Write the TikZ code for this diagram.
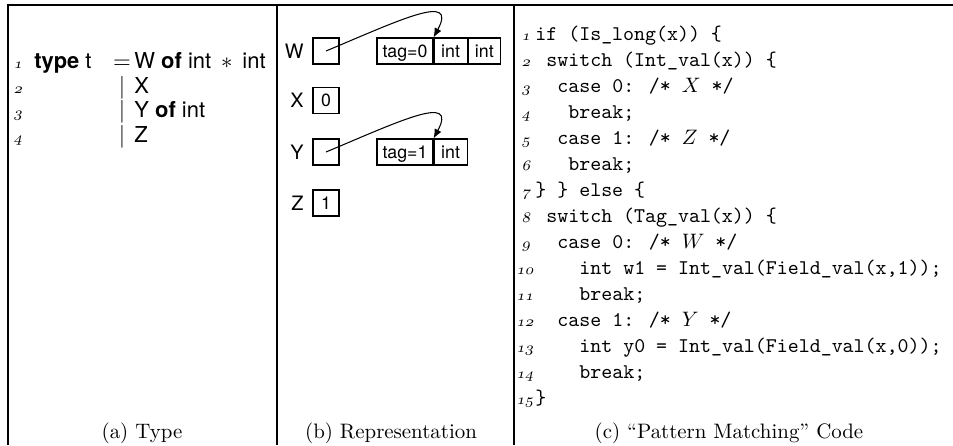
\documentclass[tikz,border=0pt]{standalone}
\usepackage{fontspec}
\setsansfont{TeX Gyre Heros}
\usetikzlibrary{arrows.meta}
\begin{document}
\begin{tikzpicture}[x=0.4785pt,y=-0.4785pt,
  frame/.style={line width=0.75pt},
  typ/.style={font=\fontsize{10.5}{13}\selectfont\sffamily, inner sep=0pt},
  lnum/.style={font=\fontsize{7}{8}\selectfont, inner sep=0pt, anchor=base, xslant=0.22, transform shape},
  lnumw/.style={lnum, anchor=base west},
  code/.style={font=\fontsize{10}{12}\selectfont\ttfamily, inner sep=0pt, anchor=base west},
  captext/.style={font=\fontsize{10}{12}\selectfont, inner sep=0pt, anchor=base},
  lab/.style={font=\fontsize{9.5}{11}\selectfont\sffamily, inner sep=0pt, anchor=east},
  cell/.style={draw, line width=0.5pt, font=\fontsize{8.5}{10}\selectfont\sffamily,
    inner sep=0pt, minimum height=12.44pt, text height=6.1pt, text depth=0pt},
  ptr/.style={line width=0.5pt, -{Latex[length=4.5pt,width=3.6pt]}}
]
\useasboundingbox (0,0) rectangle (953,445);
% frame
\draw[frame] (8,445) -- (8,5) -- (953,5);
\draw[frame] (277,5) -- (277,445);
\draw[frame] (514,5) -- (514,445);

% (a) Type
\node[lnum] (an1) at (18,68) {$\mathnormal{1}$};
\node[lnum] (an2) at (18,93) {$\mathnormal{2}$};
\node[lnum] (an3) at (18,117) {$\mathnormal{3}$};
\node[lnum] (an4) at (18,142) {$\mathnormal{4}$};
\node[typ, anchor=base east] (a1l) at (92,68) {\textbf{type} t};
\node[typ, anchor=base] (a1e) at (122,68) {$=$};
\node[typ, anchor=base west] (a1r) at (134,68) {W \textbf{of} int $\,*\,$ int};
\node[typ, anchor=base] (a2b) at (122,93) {$|$};
\node[typ, anchor=base west] (a2r) at (134,93) {X};
\node[typ, anchor=base] (a3b) at (122,117) {$|$};
\node[typ, anchor=base west] (a3r) at (134,117) {Y \textbf{of} int};
\node[typ, anchor=base] (a4b) at (122,142) {$|$};
\node[typ, anchor=base west] (a4r) at (134,142) {Z};

% (b) Representation
\node[lab] (lw) at (304,51) {W};
\node[lab] (lx) at (304,100.5) {X};
\node[lab] (ly) at (304,152) {Y};
\node[lab] (lz) at (304,203) {Z};
\node[cell, minimum width=12.44pt] (bw) at (326,51) {};
\node[cell, minimum width=12.44pt] (bx) at (326,100.5) {0};
\node[cell, minimum width=12.44pt] (by) at (326,152) {};
\node[cell, minimum width=12.44pt] (bz) at (326,203) {1};
\node[cell, minimum width=26.8pt] (wt) at (405,51) {tag=0};
\node[cell, minimum width=15.8pt, anchor=west] (wi1) at (wt.east) {int};
\node[cell, minimum width=15.5pt, anchor=west] (wi2) at (wi1.east) {int};
\node[cell, minimum width=26.8pt] (yt) at (405,152) {tag=1};
\node[cell, minimum width=15.8pt, anchor=west] (yi1) at (yt.east) {int};
\draw[ptr] (bw.center) .. controls (400,20) and (458,-8) .. (wt.north east);
\draw[ptr] (by.center) .. controls (400,121) and (458,93) .. (yt.north east);

% (c) code
\node[lnum] (cn1) at (526,40) {$\mathnormal{1}$};
\node[lnum] (cn2) at (526,66) {$\mathnormal{2}$};
\node[lnum] (cn3) at (526,92) {$\mathnormal{3}$};
\node[lnum] (cn4) at (526,118) {$\mathnormal{4}$};
\node[lnum] (cn5) at (526,144) {$\mathnormal{5}$};
\node[lnum] (cn6) at (526,170) {$\mathnormal{6}$};
\node[lnum] (cn7) at (526,196) {$\mathnormal{7}$};
\node[lnum] (cn8) at (526,222) {$\mathnormal{8}$};
\node[lnum] (cn9) at (526,248) {$\mathnormal{9}$};
\node[lnumw] (cn10) at (516,274) {$\mathnormal{10}$};
\node[lnumw] (cn11) at (516,300) {$\mathnormal{11}$};
\node[lnumw] (cn12) at (516,326) {$\mathnormal{12}$};
\node[lnumw] (cn13) at (516,352) {$\mathnormal{13}$};
\node[lnumw] (cn14) at (516,378) {$\mathnormal{14}$};
\node[lnumw] (cn15) at (516,404) {$\mathnormal{15}$};
\node[code] (c1) at (535,40) {if (Is\_long(x)) \{};
\node[code] (c2) at (546,66) {switch (Int\_val(x)) \{};
\node[code] (c3) at (557,92) {case 0: /* $X$ */};
\node[code] (c4) at (568,118) {break;};
\node[code] (c5) at (557,144) {case 1: /* $Z$ */};
\node[code] (c6) at (568,170) {break;};
\node[code] (c7) at (535,196) {\} \} else \{};
\node[code] (c8) at (546,222) {switch (Tag\_val(x)) \{};
\node[code] (c9) at (557,248) {case 0: /* $W$ */};
\node[code] (c10) at (579,274) {int w1 = Int\_val(Field\_val(x,1));};
\node[code] (c11) at (579,300) {break;};
\node[code] (c12) at (557,326) {case 1: /* $Y$ */};
\node[code] (c13) at (579,352) {int y0 = Int\_val(Field\_val(x,0));};
\node[code] (c14) at (579,378) {break;};
\node[code] (c15) at (535,404) {\}};

% captions
\node[captext] (capa) at (142,438) {(a) Type};
\node[captext] (capb) at (391,438) {(b) Representation};
\node[captext] (capc) at (729,438) {(c) “Pattern Matching” Code};
\end{tikzpicture}
\end{document}
